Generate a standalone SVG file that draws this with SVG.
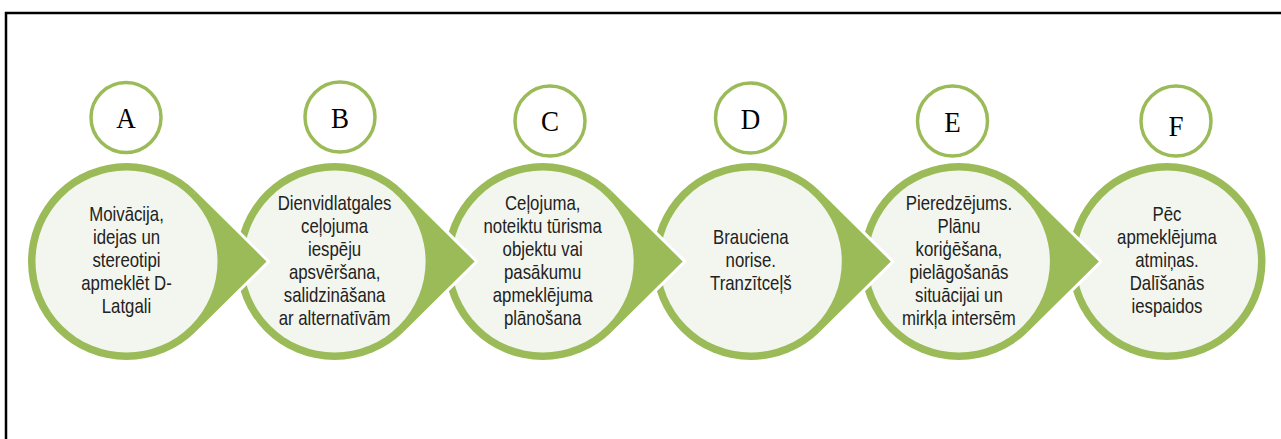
<svg xmlns="http://www.w3.org/2000/svg" xmlns:xlink="http://www.w3.org/1999/xlink" width="1281" height="439" viewBox="0 0 1281 439">
<style>
.outer{fill:#9BBB59}
.inner{fill:#F3F6EE}
.badge{fill:#FFFFFF;stroke:#9BBB59;stroke-width:3.5}
.letter{font-family:"Liberation Serif","Times New Roman",serif;font-size:30px;fill:#000;text-anchor:middle}
.lbl{font-family:"Liberation Sans",Arial,sans-serif;font-size:20px;fill:#222;text-anchor:middle}
.edge{fill:none;stroke:#FFFFFF;stroke-width:6;stroke-linejoin:miter}
.tipfill{fill:#9BBB59}
</style>
<defs>
<polyline id="tipEdge" points="69.3,191.5 140,261.5 69.3,331.5"/>
<path id="tip" d="M69.3,191.5 L140,261.5 L69.3,331.5 L66.1,328.3 A94,94 0 0 0 66.1,194.7 Z"/>
</defs>
<path d="M6,439 V13 H1281" fill="none" stroke="#000" stroke-width="2.5"/>

<g id="node-A">
<circle class="badge" cx="126" cy="117.5" r="35"/>
<text class="letter" transform="translate(126,128) scale(0.9,1)">A</text>
<circle class="outer" cx="126.5" cy="261.5" r="98.5"/>
<circle class="inner" cx="126.5" cy="261.5" r="91"/>
<g transform="translate(126.5,0) scale(0.84,1)">
<text class="lbl" x="0" y="221">Moivācija,</text>
<text class="lbl" x="0" y="244">idejas  un</text>
<text class="lbl" x="0" y="267">stereotipi</text>
<text class="lbl" x="0" y="290">apmeklēt  D-</text>
<text class="lbl" x="0" y="313">Latgali</text>
</g>
</g>

<g id="node-B">
<circle class="badge" cx="340" cy="117" r="35"/>
<text class="letter" transform="translate(340,127.7) scale(0.9,1)">B</text>
<circle class="outer" cx="334.6" cy="261.5" r="98.5"/>
<circle class="inner" cx="334.6" cy="261.5" r="91"/>
<g transform="translate(334.6,0) scale(0.84,1)">
<text class="lbl" x="0" y="210">Dienvidlatgales</text>
<text class="lbl" x="0" y="233">ceļojuma</text>
<text class="lbl" x="0" y="256">iespēju</text>
<text class="lbl" x="0" y="279">apsvēršana,</text>
<text class="lbl" x="0" y="302">salidzināšana</text>
<text class="lbl" x="0" y="325">ar alternatīvām</text>
</g>
</g>

<g id="node-C">
<circle class="badge" cx="550" cy="121" r="35"/>
<text class="letter" transform="translate(550,130.5) scale(0.9,1)">C</text>
<circle class="outer" cx="542.7" cy="261.5" r="98.5"/>
<circle class="inner" cx="542.7" cy="261.5" r="91"/>
<g transform="translate(542.7,0) scale(0.84,1)">
<text class="lbl" x="0" y="210">Ceļojuma,</text>
<text class="lbl" x="0" y="233">noteiktu  tūrisma</text>
<text class="lbl" x="0" y="256">objektu  vai</text>
<text class="lbl" x="0" y="279">pasākumu</text>
<text class="lbl" x="0" y="302">apmeklējuma</text>
<text class="lbl" x="0" y="325">plānošana</text>
</g>
</g>

<g id="node-D">
<circle class="badge" cx="750.5" cy="118" r="35"/>
<text class="letter" transform="translate(750.5,129) scale(0.9,1)">D</text>
<circle class="outer" cx="750.8" cy="261.5" r="98.5"/>
<circle class="inner" cx="750.8" cy="261.5" r="91"/>
<g transform="translate(750.8,0) scale(0.84,1)">
<text class="lbl" x="0" y="244">Brauciena</text>
<text class="lbl" x="0" y="267">norise.</text>
<text class="lbl" x="0" y="290">Tranzītceļš</text>
</g>
</g>

<g id="node-E">
<circle class="badge" cx="952.5" cy="121" r="35"/>
<text class="letter" transform="translate(952.5,131.5) scale(0.9,1)">E</text>
<circle class="outer" cx="958.9" cy="261.5" r="98.5"/>
<circle class="inner" cx="958.9" cy="261.5" r="91"/>
<g transform="translate(958.9,0) scale(0.84,1)">
<text class="lbl" x="0" y="210">Pieredzējums.</text>
<text class="lbl" x="0" y="233">Plānu</text>
<text class="lbl" x="0" y="256">koriģēšana,</text>
<text class="lbl" x="0" y="279">pielāgošanās</text>
<text class="lbl" x="0" y="302">situācijai  un</text>
<text class="lbl" x="0" y="325">mirkļa intersēm</text>
</g>
</g>

<g id="node-F">
<circle class="badge" cx="1176" cy="121" r="35"/>
<text class="letter" transform="translate(1176,136) scale(0.9,1)">F</text>
<circle class="outer" cx="1167" cy="261.5" r="98.5"/>
<circle class="inner" cx="1167" cy="261.5" r="91"/>
<g transform="translate(1167,0) scale(0.84,1)">
<text class="lbl" x="0" y="221">Pēc</text>
<text class="lbl" x="0" y="244">apmeklējuma</text>
<text class="lbl" x="0" y="267">atmiņas.</text>
<text class="lbl" x="0" y="290">Dalīšanās</text>
<text class="lbl" x="0" y="313">iespaidos</text>
</g>
</g>

<g id="connectors">
<g transform="translate(126.5,0)"><use xlink:href="#tipEdge" class="edge"/><use xlink:href="#tip" class="tipfill"/></g>
<g transform="translate(334.6,0)"><use xlink:href="#tipEdge" class="edge"/><use xlink:href="#tip" class="tipfill"/></g>
<g transform="translate(542.7,0)"><use xlink:href="#tipEdge" class="edge"/><use xlink:href="#tip" class="tipfill"/></g>
<g transform="translate(750.8,0)"><use xlink:href="#tipEdge" class="edge"/><use xlink:href="#tip" class="tipfill"/></g>
<g transform="translate(958.9,0)"><use xlink:href="#tipEdge" class="edge"/><use xlink:href="#tip" class="tipfill"/></g>
</g>
</svg>
